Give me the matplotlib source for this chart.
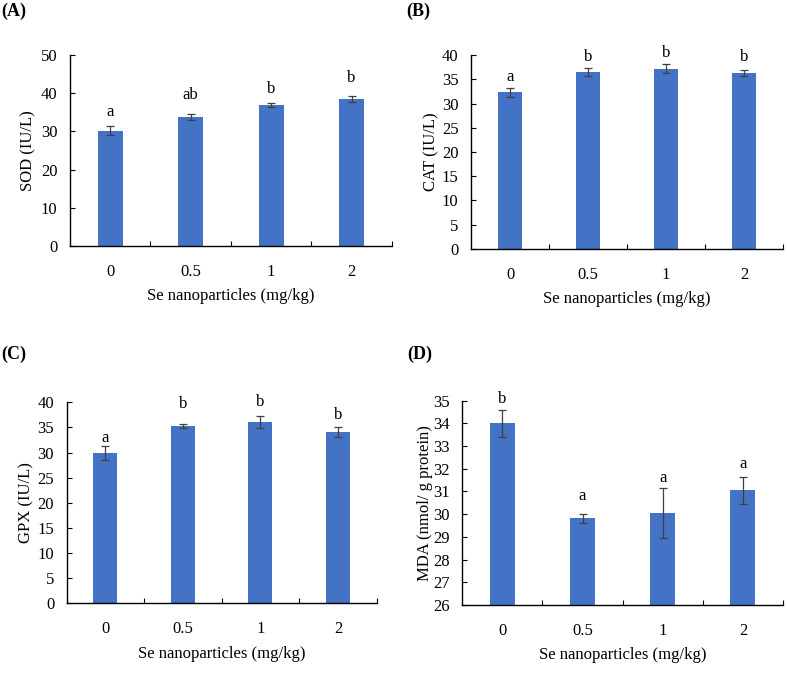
import numpy as np
import matplotlib.pyplot as plt

doses = ["0", "0.5", "1", "2"]

sod = [30.2, 33.7, 36.9, 38.5]
sod_err = [1.2, 0.8, 0.6, 0.8]
sod_sig = ["a", "ab", "b", "b"]
sod_sig_y = [35.0, 39.5, 41.0, 44.0]

cat = [32.3, 36.5, 37.2, 36.3]
cat_err = [1.0, 0.9, 1.0, 0.6]
cat_sig = ["a", "b", "b", "b"]
cat_sig_y = [35.4, 39.7, 40.4, 39.7]

gpx = [29.9, 35.3, 36.0, 34.1]
gpx_err = [1.4, 0.4, 1.2, 0.9]
gpx_sig = ["a", "b", "b", "b"]
gpx_sig_y = [33.0, 39.7, 40.0, 37.5]

mda = [34.0, 29.82, 30.07, 31.05]
mda_err = [0.6, 0.2, 1.1, 0.6]
mda_sig = ["b", "a", "a", "a"]
mda_sig_y = [35.07, 30.8, 31.6, 32.2]

plt.rcParams["font.family"] = ["Liberation Serif", "DejaVu Serif"]
plt.rcParams["font.size"] = 12

fig = plt.figure(figsize=(7.87, 6.76), dpi=100)

panels = [
    # rect, values, errors, letters, letter y, ylabel, ylim, yticks, tag, tag pos, ylabel pad
    ([0.0889, 0.636, 0.409, 0.2825], sod, sod_err, sod_sig, sod_sig_y,
     "SOD (IU/L)", (0, 50), np.arange(0, 51, 10), "(A)", (0.001, 0.996), 3),
    ([0.5985, 0.632, 0.3965, 0.2865], cat, cat_err, cat_sig, cat_sig_y,
     "CAT (IU/L)", (0, 40), np.arange(0, 41, 5), "(B)", (0.516, 0.996), 2),
    ([0.0847, 0.1075, 0.394, 0.2973], gpx, gpx_err, gpx_sig, gpx_sig_y,
     "GPX (IU/L)", (0, 40), np.arange(0, 41, 5), "(C)", (0.001, 0.488), 2),
    ([0.5874, 0.105, 0.4075, 0.3023], mda, mda_err, mda_sig, mda_sig_y,
     "MDA (nmol/ g protein)", (26, 35), np.arange(26, 36, 1), "(D)", (0.517, 0.488), 0),
]

x = np.arange(len(doses))
for rect, vals, errs, sig, sig_y, ylab, ylim, yt, tag, tpos, ypad in panels:
    ax = fig.add_axes(rect)
    ax.bar(x, np.array(vals) - ylim[0], width=0.31, bottom=ylim[0],
           color="#4472C4", zorder=2)
    ax.errorbar(x, vals, yerr=errs, fmt="none", ecolor="#404040",
                elinewidth=0.9, capsize=3, capthick=0.9, zorder=3)
    for xi, s, sy in zip(x, sig, sig_y):
        ax.text(xi, sy, s, ha="center", va="center", fontsize=12, clip_on=False)
    ax.set_xlim(-0.5, 3.5)
    ax.set_ylim(*ylim)
    ax.set_yticks(yt)
    ax.set_xticks(x)
    ax.set_xticklabels(doses)
    ax.set_xticks([0.5, 1.5, 2.5, 3.5], minor=True)
    ax.tick_params(axis="x", which="major", length=0, pad=13, labelsize=12)
    ax.tick_params(axis="x", which="minor", length=3.5, width=0.8, direction="in")
    ax.tick_params(axis="y", length=3.5, width=0.8, direction="in", pad=9,
                   labelsize=12)
    ax.spines["top"].set_visible(False)
    ax.spines["right"].set_visible(False)
    ax.spines["left"].set_linewidth(1.0)
    ax.spines["bottom"].set_linewidth(1.0)
    ax.set_xlabel("Se nanoparticles (mg/kg)", fontsize=12, labelpad=6)
    ax.set_ylabel(ylab, fontsize=12, labelpad=ypad)
    fig.text(tpos[0], tpos[1], tag, fontsize=13, fontweight="bold", va="top")

fig.savefig("out.png", dpi=100)
